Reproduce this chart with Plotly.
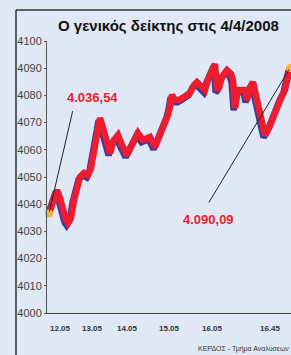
import plotly.graph_objects as go

# positions along the time axis (chart units) and index values
t = [49, 53, 57, 60, 63, 66, 68, 71, 74, 77, 80, 84, 88, 91, 94, 97, 100, 103, 106, 110,
     114, 118, 122, 127, 132, 138, 143, 150, 155, 160, 165, 168, 170, 172, 175, 179, 184,
     190, 194, 197, 202, 205, 208, 211, 215, 217, 219, 222, 227, 231, 233, 235, 238, 245,
     247, 250, 253, 257, 261, 265, 269, 273, 277, 281, 285, 288, 290]
values = [4036.54, 4041.5, 4045.2, 4042.3, 4037.9, 4034.2, 4033.1, 4034.9, 4041.5, 4047.1,
          4050.0, 4051.5, 4050.7, 4053.3, 4059.9, 4067.3, 4071.7, 4068.0, 4063.6, 4058.8,
          4063.6, 4065.4, 4061.8, 4058.1, 4061.8, 4066.2, 4063.6, 4064.7, 4061.0, 4065.4,
          4069.1, 4072.8, 4075.7, 4080.2, 4078.3, 4078.3, 4079.4, 4080.9, 4083.8, 4084.9,
          4083.1, 4082.0, 4085.7, 4088.6, 4091.5, 4082.0, 4082.7, 4086.8, 4089.3, 4087.9,
          4085.7, 4075.4, 4082.0, 4082.0, 4078.3, 4082.7, 4084.9, 4078.3, 4071.0, 4065.4,
          4068.0, 4072.1, 4075.4, 4079.0, 4082.0, 4088.6, 4090.09]
tick_pos = [60, 92, 127, 169, 212, 270]
tick_text = ["12.05", "13.05", "14.05", "15.05", "16.05", "16.45"]
y_ticks = list(range(4000, 4101, 10))
start_label = "4.036,54"
end_label = "4.090,09"
title = "Ο γενικός δείκτης στις 4/4/2008"
source = "ΚΕΡΔΟΣ - Τμήμα Αναλύσεων"

BG = "#dfe8f4"
RED = "#ee1c2e"
BLUE = "#3a3c9c"
SANS = "Liberation Sans, Arial, sans-serif"

fig = go.Figure()
# shadow
fig.add_trace(go.Scatter(x=[v - 1.4 for v in t], y=[v - 0.85 for v in values], mode="lines",
                         line=dict(color=BLUE, width=6.5), hoverinfo="skip"))
fig.add_trace(go.Scatter(x=t, y=values, mode="lines",
                         line=dict(color=RED, width=6.5), hoverinfo="skip"))
fig.add_trace(go.Scatter(x=[t[0], t[-1]], y=[values[0], values[-1]], mode="markers",
                         marker=dict(color="#f2b440", size=8), cliponaxis=False,
                         hoverinfo="skip"))

fig.update_layout(
    width=291, height=355,
    margin=dict(l=47, r=0, t=41, b=42),
    paper_bgcolor=BG, plot_bgcolor=BG,
    showlegend=False,
    xaxis=dict(range=[47, 291], tickvals=tick_pos, ticktext=tick_text, showgrid=False,
               zeroline=False, showline=True, linecolor="#444", linewidth=1,
               ticks="", tickfont=dict(family=SANS, size=8, color="#333", weight="bold"),
               ticklabelstandoff=7),
    yaxis=dict(range=[4000, 4100], tickvals=y_ticks, showgrid=False, zeroline=False,
               showline=True, linecolor="#555", linewidth=1, ticks="outside", ticklen=2,
               tickcolor="#555", tickfont=dict(family=SANS, size=11, color="#444")),
    shapes=[
        dict(type="line", xref="paper", yref="paper", x0=(16 - 47) / 244, x1=1.05,
             y0=(313 - 10) / 272, y1=(313 - 10) / 272, line=dict(color="#333", width=1.5)),
        dict(type="line", xref="paper", yref="paper", x0=(16 - 47) / 244, x1=(16 - 47) / 244,
             y0=(313 - 10) / 272, y1=-0.2, line=dict(color="#333", width=1.5)),
    ],
    annotations=[
        dict(text="<b>" + title + "</b>", xref="paper", yref="paper", x=(168 - 47) / 244,
             y=(313 - 26) / 272, showarrow=False, xanchor="center", yanchor="middle",
             font=dict(family=SANS, size=15, color="#111")),
        dict(text="<b>" + start_label + "</b>", xref="paper", yref="paper",
             x=(92 - 47) / 244, y=(313 - 97) / 272, showarrow=False,
             xanchor="center", yanchor="middle",
             font=dict(family=SANS, size=13, color=RED)),
        dict(text="<b>" + end_label + "</b>", xref="paper", yref="paper",
             x=(208 - 47) / 244, y=(313 - 219) / 272, showarrow=False,
             xanchor="center", yanchor="middle",
             font=dict(family=SANS, size=13, color=RED)),
        dict(text="", x=t[0], y=values[0], ax=24, ay=-104, showarrow=True, arrowhead=0,
             arrowwidth=1, arrowcolor="#222", standoff=2),
        dict(text="", x=t[-1], y=values[-1], ax=-82, ay=136, showarrow=True, arrowhead=0,
             arrowwidth=1, arrowcolor="#222", standoff=2),
        dict(text=source, xref="paper", yref="paper", x=1, y=(313 - 349) / 272,
             xanchor="right", yanchor="middle", showarrow=False,
             font=dict(family=SANS, size=7, color="#333")),
    ],
)
fig.write_html("out.html", config={"displayModeBar": False})
with open("out.html", encoding="utf-8") as f:
    html = f.read()
html = html.replace("<body>", '<body style="margin:0;overflow:hidden">', 1)
html = html.replace("<head>", "<head><style>html,body{margin:0;padding:0;overflow:hidden}</style>", 1)
with open("out.html", "w", encoding="utf-8") as f:
    f.write(html)
